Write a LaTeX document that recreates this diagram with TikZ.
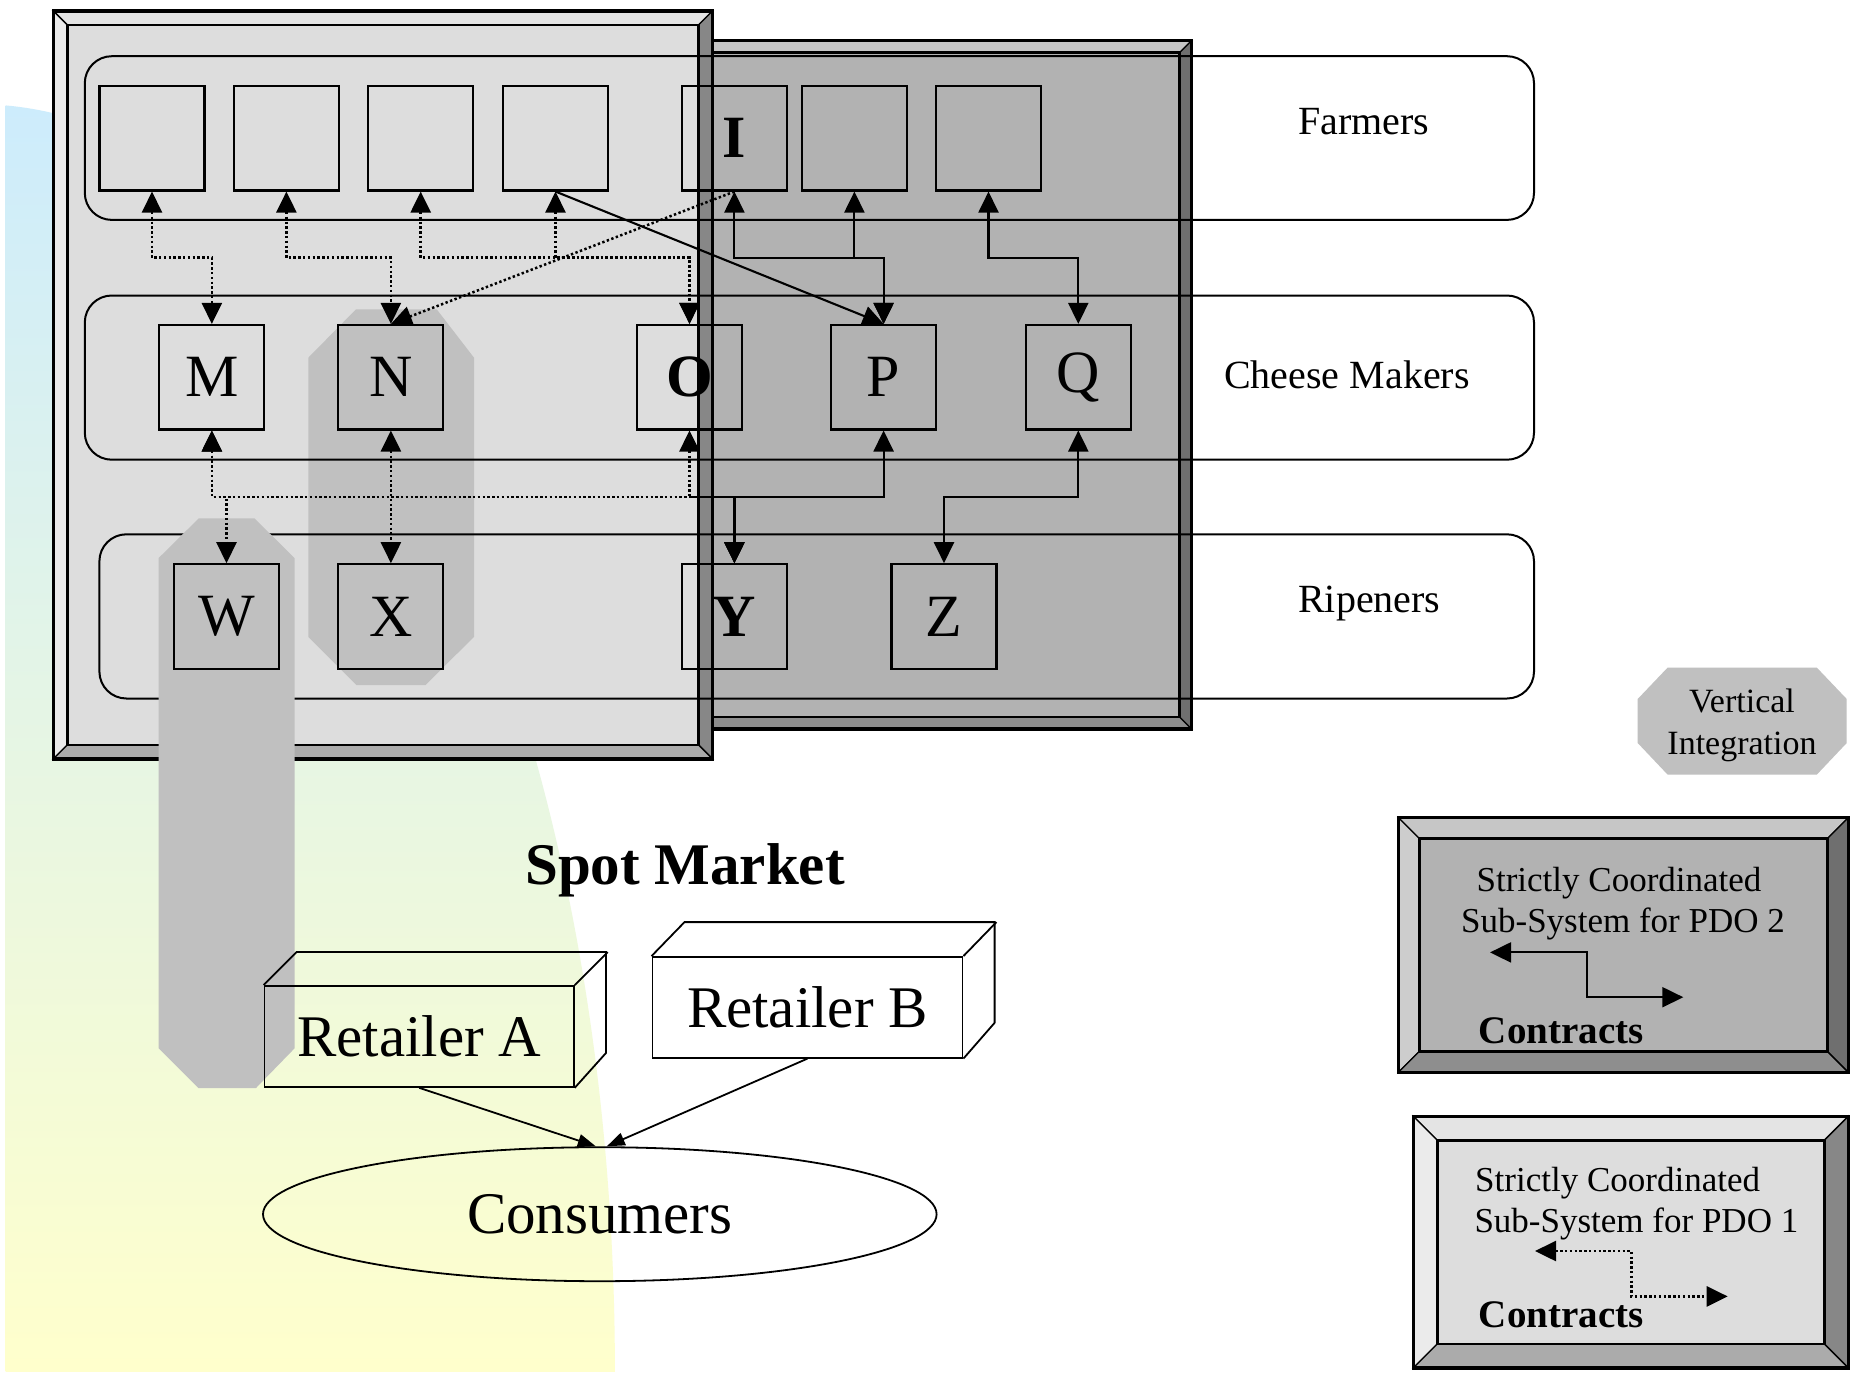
\documentclass[tikz,border=0pt]{standalone}
\usepackage{fontspec}
\setmainfont{Liberation Serif}
\usetikzlibrary{arrows.meta,shapes.geometric}

\definecolor{lfill}{HTML}{DDDDDD}
\definecolor{ltop}{HTML}{E4E4E4}
\definecolor{lleft}{HTML}{EBEBEB}
\definecolor{lright}{HTML}{878787}
\definecolor{lbot}{HTML}{ABABAB}
\definecolor{dfill}{HTML}{B2B2B2}
\definecolor{dtop}{HTML}{C6C6C6}
\definecolor{dleft}{HTML}{CDCDCD}
\definecolor{dright}{HTML}{6F6F6F}
\definecolor{dbot}{HTML}{8E8E8E}
\definecolor{vint}{HTML}{C0C0C0}
\definecolor{skytop}{RGB}{205,236,252}
\definecolor{skybot}{RGB}{255,255,204}

\newcommand{\fs}[1]{\fontsize{#1}{#1}\selectfont}

% bevelled frame: #1,#2 outer top-left, #3,#4 outer bottom-right, #5 bevel, #6 colour set
\newcommand{\bevelframe}[6]{%
  \fill[#6fill] ({#1+#5},{#2+#5}) rectangle ({#3-#5},{#4-#5});
  \filldraw[fill=#6top, bevedge] (#1,#2) -- (#3,#2) -- ({#3-#5},{#2+#5}) -- ({#1+#5},{#2+#5}) -- cycle;
  \filldraw[fill=#6left, bevedge] (#1,#2) -- ({#1+#5},{#2+#5}) -- ({#1+#5},{#4-#5}) -- (#1,#4) -- cycle;
  \filldraw[fill=#6right, bevedge] (#3,#2) -- (#3,#4) -- ({#3-#5},{#4-#5}) -- ({#3-#5},{#2+#5}) -- cycle;
  \filldraw[fill=#6bot, bevedge] (#1,#4) -- (#3,#4) -- ({#3-#5},{#4-#5}) -- ({#1+#5},{#4-#5}) -- cycle;
  \draw[line width=2.8pt] ({#1+#5},{#2+#5}) rectangle ({#3-#5},{#4-#5});
  \draw[line width=3.2pt] (#1,#2) rectangle (#3,#4);
}

\begin{document}
\begin{tikzpicture}[x=1pt,y=-1pt,
  bevedge/.style={draw=black, line width=1.3pt, line join=miter},
  bigtri/.tip={Triangle[length=21pt,width=20pt]},
  smalltri/.tip={Triangle[length=18pt,width=13pt]},
  link/.style={line width=2.1pt, bigtri-bigtri},
  dotlink/.style={link, line width=2.5pt, dash pattern=on 2.4pt off 2.4pt},
  band/.style={draw, line width=2pt, rounded corners=27pt, inner sep=0pt},
  unit/.style={draw, line width=2.1pt, minimum width=105pt, minimum height=104.5pt, inner sep=0pt, font=\fs{60}},
  lbl/.style={inner sep=0pt, anchor=base},
  thin/.style={line width=1.8pt}]

\useasboundingbox (0,0) rectangle (1854,1374);
\fill[white] (0,0) rectangle (1854,1374);

% shaded backdrop on the left
\begin{scope}
  \clip (5.6,0) rectangle (1854,1371);
  \clip (-23.6,1371.6) ellipse [x radius=638.5, y radius=1267.5];
  \shade[top color=skytop, bottom color=skybot] (5.6,104) rectangle (650,1371);
\end{scope}

% the two strictly coordinated sub-systems
\bevelframe{600}{40.8}{1191.5}{729}{12}{d}
\bevelframe{53.3}{10.9}{712.6}{759}{14}{l}

% vertical integration N-X
\fill[vint] (308.3,357.7) -- (356,309.3) -- (436.7,309.3) -- (474,357.7) -- (474,636.8)
  -- (425.6,685) -- (356.3,685) -- (308.3,636.8) -- cycle;

% stages
\node[band, minimum width=1449.2pt, minimum height=163.7pt] (bandF) at (809.4,138.05) {};
\node[band, minimum width=1449.2pt, minimum height=164.2pt] (bandC) at (809.4,377.6) {};
\node[band, minimum width=1434.6pt, minimum height=164.2pt] (bandR) at (816.7,616.4) {};

% vertical integration W to the retail level
\fill[vint] (158.5,558.2) -- (198.7,518.4) -- (254.5,518.4) -- (294.7,558.2) -- (294.7,1048.2)
  -- (256,1088) -- (198.5,1088) -- (158.5,1048.2) -- cycle;

% farmers
\node[unit] (f1) at (152,138.25) {};
\node[unit] (f2) at (286.4,138.25) {};
\node[unit] (f3) at (420.7,138.25) {};
\node[unit] (f4) at (555.5,138.25) {};
\node[unit, font=\fs{60}\bfseries] (fI) at (734.4,138.25) {I};
\node[unit] (f6) at (854.4,138.25) {};
\node[unit] (f7) at (988.5,138.25) {};
% cheese makers
\node[unit] (M) at (211.85,377.2) {M};
\node[unit] (N) at (390.9,377.2) {N};
\node[unit, font=\fs{60}\bfseries] (O) at (689.5,377.2) {O};
\node[unit] (P) at (883.6,377.2) {P};
\node[unit] (Q) at (1078.3,377.2) {Q};
% ripeners
\node[unit] (W) at (226.5,616.5) {W};
\node[unit] (X) at (390.9,616.5) {X};
\node[unit, font=\fs{60}\bfseries] (Y) at (734.4,616.5) {Y};
\node[unit] (Z) at (944,616.5) {Z};

% routing levels
\coordinate (up) at (0,257.7);
\coordinate (lo) at (0,497);

% contracts, sub-system 1
\draw[dotlink] (f1.south) -- (f1.south |- up) -| (M.north);
\draw[dotlink] (f2.south) -- (f2.south |- up) -| (N.north);
\draw[dotlink] (f3.south) -- (f3.south |- up) -| (O.north);
\draw[dotlink] (f4.south) -- (f4.south |- up) -| (O.north);
\draw[dotlink, -bigtri] (fI.south) -- (N.north);
\draw[dotlink] (M.south) -- (M.south |- lo) -| (W.north);
\draw[dotlink] (M.south) -- (M.south |- lo) -| (Y.north);
\draw[dotlink] (O.south) -- (O.south |- lo) -| (Y.north);
\draw[dotlink] (N.south) -- (X.north);
% contracts, sub-system 2
\draw[link, -bigtri] (f4.south) -- (P.north);
\draw[link] (fI.south) -- (fI.south |- up) -| (P.north);
\draw[link] (f6.south) -- (f6.south |- up) -| (P.north);
\draw[link] (f7.south) -- (f7.south |- up) -| (Q.north);
\draw[link] (P.south) -- (P.south |- lo) -| (Y.north);
\draw[link] (Q.south) -- (Q.south |- lo) -| (Z.north);

% stage names
\node[lbl, anchor=base west, font=\fs{40}] (tF) at (1298,134.3) {Farmers};
\node[lbl, anchor=base west, font=\fs{40}] (tC) at (1224,388) {Cheese Makers};
\node[lbl, anchor=base west, font=\fs{40}] (tR) at (1298,612) {Ripeners};

% retail level
\node[lbl, font=\fs{59}\bfseries] (spot) at (685,884) {Spot Market};
\node[draw, thin, minimum width=309.3pt, minimum height=101pt, inner sep=0pt, font=\fs{59}] (rA) at (419.2,1036.4) {Retailer A};
\draw[thin] (rA.north west) -- ++(33,-33) -- ++(309.3,0) -- ++(0,101) -- (rA.south east);
\draw[thin] (rA.north east) -- ++(33,-33);
\node[draw, thin, minimum width=310.1pt, minimum height=100.7pt, inner sep=0pt, font=\fs{59}] (rB) at (807.45,1007.35) {Retailer B};
\draw[thin] (rB.north west) -- ++(33,-34) -- ++(310.1,0) -- ++(0,100.7) -- (rB.south east);
\draw[thin] (rB.north east) -- ++(33,-34);
\node[draw, thin, ellipse, minimum width=673.6pt, minimum height=134pt, inner sep=0pt, font=\fs{59}] (cons) at (599.8,1214.2) {Consumers};
\draw[thin, -smalltri] (rA.south) -- ([xshift=-4pt]cons.north);
\draw[thin, -smalltri] (rB.south) -- ([xshift=7pt]cons.north);

% key: vertical integration
\fill[vint] (1637.7,699) -- (1667.7,667.5) -- (1816.7,667.5) -- (1846.7,699) -- (1846.7,743)
  -- (1816.7,774.7) -- (1667.7,774.7) -- (1637.7,743) -- cycle;
\node[lbl, font=\fs{34}] (vi1) at (1742,712.3) {Vertical};
\node[lbl, font=\fs{34}] (vi2) at (1742,754) {Integration};

% key: sub-system 2
\bevelframe{1398.3}{817.6}{1848.3}{1072.4}{21}{d}
\node[lbl, font=\fs{35}] (k2a) at (1619,891.5) {Strictly Coordinated};
\node[lbl, font=\fs{35}] (k2b) at (1623,932.5) {Sub-System for PDO 2};
\coordinate (k2l) at (1490,952.4);
\coordinate (k2m) at (1586.7,975);
\coordinate (k2r) at (1683.3,997.2);
\draw[link] (k2l) -| (k2m) |- (k2r);
\node[lbl, anchor=base west, font=\fs{39}\bfseries] (k2c) at (1478.7,1043.4) {Contracts};

% key: sub-system 1
\bevelframe{1413.3}{1116.3}{1848.3}{1367.9}{24}{l}
\node[lbl, anchor=base west, font=\fs{35}] (k1a) at (1475,1191) {Strictly Coordinated};
\node[lbl, anchor=base west, font=\fs{35}] (k1b) at (1474.3,1232.6) {Sub-System for PDO 1};
\coordinate (k1l) at (1535,1251);
\coordinate (k1m) at (1631.3,1274);
\coordinate (k1r) at (1727.7,1296.4);
\draw[dotlink] (k1l) -| (k1m) |- (k1r);
\node[lbl, anchor=base west, font=\fs{39}\bfseries] (k1c) at (1478.7,1327.7) {Contracts};

\end{tikzpicture}
\end{document}
